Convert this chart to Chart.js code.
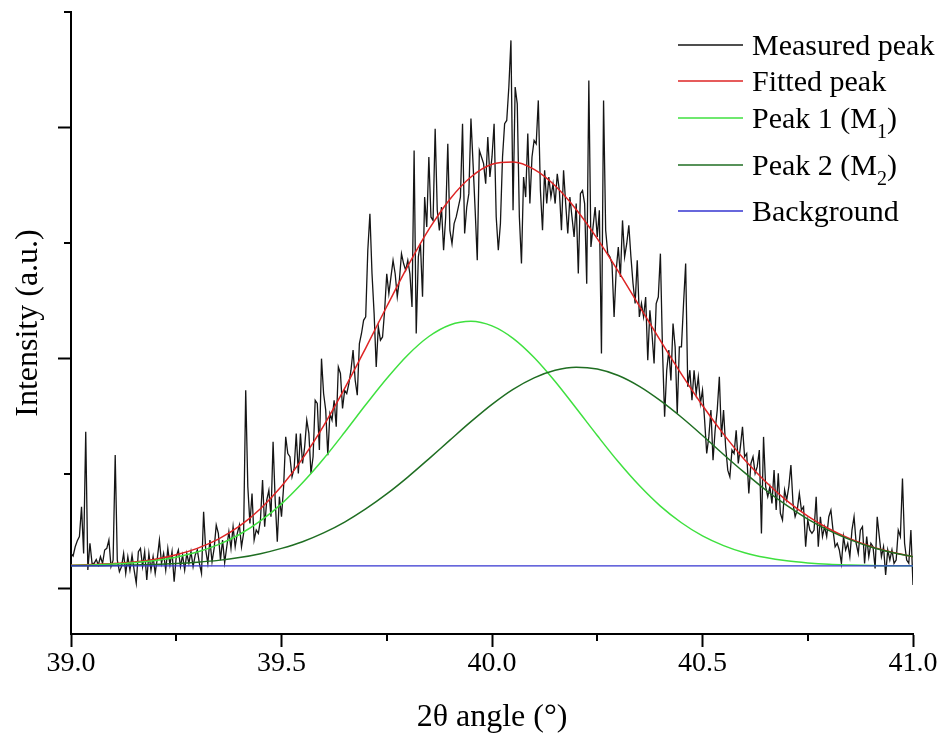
<!DOCTYPE html>
<html>
<head>
<meta charset="utf-8">
<script src="https://cdn.jsdelivr.net/npm/chart.js@4"></script>
<style>
 html, body { margin: 0; padding: 0; background: #fff; }
 #wrap { width: 948px; height: 745px; }
</style>
</head>
<body>
<div id="wrap"><canvas id="xrdChart" width="948" height="745"></canvas></div>
<script>
// measured scan, sampled every 0.005 deg starting at 39.0
var measuredStart = 39.0;
var measuredStep = 0.005;
var measuredY = [
 154, 143, 183, 209, 227, 356, 154, 681, 82, 198,
 111, 111, 128, 104, 140, 111, 169, 176, 212, 97,
 125, 580, 125, 75, 97, 154, 68, 140, 82, 147,
 82, 25, 162, 176, 97, 162, 39, 154, 82, 140,
 68, 133, 212, 111, 154, 82, 176, 104, 162, 32,
 140, 169, 97, 147, 82, 154, 111, 162, 97, 147,
 169, 111, 68, 335, 169, 111, 212, 118, 176, 277,
 241, 125, 212, 114, 183, 248, 176, 270, 183, 241,
 277, 183, 241, 861, 443, 284, 414, 212, 256, 241,
 299, 472, 270, 385, 428, 313, 638, 385, 205, 400,
 313, 443, 659, 587, 573, 486, 522, 674, 501, 674,
 544, 616, 732, 674, 501, 573, 818, 804, 602, 998,
 847, 775, 580, 760, 732, 818, 703, 962, 934, 782,
 861, 847, 890, 948, 1035, 905, 840, 1063, 1107, 1164,
 1179, 1468, 1626, 1366, 1193, 962, 1136, 1078, 1092, 1208,
 1366, 1280, 1352, 1424, 1366, 1266, 1338, 1453, 1410, 1381,
 1424, 1366, 1222, 1900, 1107, 1439, 1496, 1266, 1698, 1569,
 1872, 1612, 1597, 1994, 1641, 1554, 1655, 1468, 1612, 1929,
 1554, 1496, 1583, 1612, 1655, 1698, 2016, 1540, 1655, 1713,
 2038, 1843, 1641, 1424, 1900, 1872, 1843, 1756, 1958, 1785,
 1872, 2016, 1612, 1468, 1583, 1872, 2016, 2030, 2175, 2377,
 1641, 2175, 2102, 1612, 1410, 1785, 1698, 1973, 1670, 1872,
 1944, 1929, 2117, 1727, 1554, 1814, 1670, 1785, 1698, 1756,
 1670, 1799, 1727, 1554, 1814, 1670, 1540, 1698, 1612, 1525,
 1670, 1367, 1713, 1727, 1670, 1323, 2203, 1482, 1569, 1655,
 1525, 1641, 1020, 2117, 1554, 1453, 1439, 1410, 1179, 1381,
 1482, 1352, 1597, 1439, 1496, 1576, 1439, 1323, 1237, 1424,
 1179, 1237, 1179, 1265, 991, 1208, 1107, 977, 1237, 1265,
 1453, 1035, 746, 948, 1035, 904, 1150, 1049, 761, 1049,
 1049, 1237, 1410, 876, 948, 818, 948, 847, 919, 804,
 861, 732, 587, 659, 775, 558, 688, 775, 919, 659,
 775, 616, 515, 486, 602, 587, 688, 544, 616, 703,
 573, 587, 414, 544, 573, 501, 530, 602, 241, 659,
 443, 400, 443, 371, 515, 342, 501, 328, 299, 429,
 385, 443, 537, 371, 313, 342, 414, 342, 356, 183,
 299, 255, 241, 255, 400, 183, 313, 227, 270, 227,
 313, 342, 255, 183, 198, 169, 111, 227, 169, 198,
 140, 255, 313, 198, 154, 255, 270, 111, 227, 140,
 198, 183, 89, 313, 227, 140, 183, 61, 169, 125,
 169, 111, 125, 255, 227, 479, 198, 125, 111, 255,
 17
];

// fitted curves, read every 0.05 deg
var curveX = [
 39.00, 39.05, 39.10, 39.15, 39.20, 39.25, 39.30, 39.35, 39.40, 39.45,
 39.50, 39.55, 39.60, 39.65, 39.70, 39.75, 39.80, 39.85, 39.90, 39.95,
 40.00, 40.05, 40.10, 40.15, 40.20, 40.25, 40.30, 40.35, 40.40, 40.45,
 40.50, 40.55, 40.60, 40.65, 40.70, 40.75, 40.80, 40.85, 40.90, 40.95,
 41.00
];
var fittedY = [
 103, 106, 110, 117, 129, 148, 176, 216, 272, 348,
 445, 565, 707, 869, 1044, 1224, 1399, 1558, 1689, 1785,
 1840, 1850, 1818, 1747, 1644, 1518, 1376, 1226, 1076, 931,
 795, 671, 560, 465, 383, 316, 261, 218, 184, 159,
 140
];
var peak1Y = [
 102, 104, 108, 114, 123, 138, 160, 192, 236, 295,
 369, 460, 564, 679, 798, 912, 1014, 1094, 1144, 1160,
 1140, 1086, 1003, 899, 783, 665, 551, 448, 359, 287,
 230, 188, 157, 136, 122, 113, 107, 104, 102, 101,
 101
];
var peak2Y = [
 101, 101, 102, 104, 106, 110, 116, 124, 136, 153,
 176, 205, 243, 290, 347, 412, 485, 564, 645, 725,
 800, 865, 915, 948, 961, 953, 925, 878, 816, 744,
 665, 583, 504, 429, 362, 303, 254, 214, 182, 158,
 140
];
var backgroundX = [39.0, 41.0];
var backgroundY = [100, 100];

var xMajorTicks = [39.0, 39.5, 40.0, 40.5, 41.0];
var xMinorTicks = [39.25, 39.75, 40.25, 40.75];
var yMajorTicks = [0, 1000, 2000];
var yMinorTicks = [500, 1500, 2500];

var seriesLabels = ['Measured peak', 'Fitted peak', 'Peak 1 (M', 'Peak 2 (M', 'Background'];
var seriesSubs = ['', '', '1', '2', ''];
var seriesColors = ['#151515', '#de2424', '#3fe03f', '#1f6e22', '#3434d0'];

var serif = '"Liberation Serif", "Times New Roman", serif';

function toPoints(xs, ys) {
 return ys.map((y, i) => ({ x: xs[i], y: y }));
}

var measuredPoints = measuredY.map((y, i) => ({ x: +(measuredStart + i * measuredStep).toFixed(3), y: y }));

// minor ticks + hand drawn legend (the subscripts don't fit the built-in legend)
var extrasPlugin = {
 id: 'extras',
 afterDraw: function(chart) {
  var ctx = chart.ctx;
  var xs = chart.scales.x, ys = chart.scales.y;
  var area = chart.chartArea;
  ctx.save();
  ctx.strokeStyle = '#000';
  ctx.lineWidth = 2;
  xMinorTicks.forEach(v => {
   var px = Math.round(xs.getPixelForValue(v));
   ctx.beginPath();
   ctx.moveTo(px, area.bottom);
   ctx.lineTo(px, area.bottom + 7);
   ctx.stroke();
  });
  yMinorTicks.forEach(v => {
   var py = Math.round(ys.getPixelForValue(v));
   ctx.beginPath();
   ctx.moveTo(area.left - 7, py);
   ctx.lineTo(area.left, py);
   ctx.stroke();
  });

  var rows = [45, 81, 118, 165, 211];
  ctx.textBaseline = 'alphabetic';
  ctx.textAlign = 'left';
  seriesLabels.forEach((label, i) => {
   var y = rows[i];
   ctx.strokeStyle = seriesColors[i];
   ctx.lineWidth = 1.5;
   ctx.beginPath();
   ctx.moveTo(678, y);
   ctx.lineTo(743, y);
   ctx.stroke();
   ctx.fillStyle = '#000';
   ctx.font = '30px ' + serif;
   ctx.fillText(label, 752, y + 10);
   if (seriesSubs[i]) {
    var w = ctx.measureText(label).width;
    ctx.font = '20px ' + serif;
    ctx.fillText(seriesSubs[i], 752 + w, y + 20);
    var w2 = ctx.measureText(seriesSubs[i]).width;
    ctx.font = '30px ' + serif;
    ctx.fillText(')', 752 + w + w2, y + 10);
   }
  });
  ctx.restore();
 }
};

var ctx = document.getElementById('xrdChart').getContext('2d');

var chartInstance = new Chart(ctx, {
 type: 'line',
 data: {
  datasets: [
   { label: 'Background', data: toPoints(backgroundX, backgroundY), borderColor: seriesColors[4], borderWidth: 1.3, order: 1 },
   { label: 'Peak 2 (M2)', data: toPoints(curveX, peak2Y), borderColor: seriesColors[3], borderWidth: 1.5, cubicInterpolationMode: 'monotone', order: 2 },
   { label: 'Peak 1 (M1)', data: toPoints(curveX, peak1Y), borderColor: seriesColors[2], borderWidth: 1.5, cubicInterpolationMode: 'monotone', order: 3 },
   { label: 'Fitted peak', data: toPoints(curveX, fittedY), borderColor: seriesColors[1], borderWidth: 1.5, cubicInterpolationMode: 'monotone', order: 4 },
   { label: 'Measured peak', data: measuredPoints, borderColor: seriesColors[0], borderWidth: 1.3, order: 5 }
  ]
 },
 options: {
  responsive: false,
  animation: false,
  elements: { point: { radius: 0 }, line: { tension: 0 } },
  layout: { padding: { top: 12, right: 35, left: 0, bottom: 0 } },
  plugins: {
   legend: { display: false },
   tooltip: { enabled: false },
   title: { display: false }
  },
  scales: {
   x: {
    type: 'linear',
    min: 39.0,
    max: 41.0,
    afterFit: function(scale) { scale.height = 111; },
    afterBuildTicks: function(scale) { scale.ticks = xMajorTicks.map(v => ({ value: v })); },
    border: { display: true, color: '#000', width: 2 },
    grid: { drawOnChartArea: false, drawTicks: true, tickLength: 13, tickColor: '#000', tickWidth: 2 },
    ticks: {
     color: '#000',
     padding: 0,
     maxRotation: 0,
     font: { family: serif, size: 28 },
     callback: function(v) { return Number(v).toFixed(1); }
    },
    title: {
     display: true,
     text: '2θ angle (°)',
     color: '#000',
     font: { family: serif, size: 32 },
     padding: { top: 0, bottom: 8 }
    }
   },
   y: {
    type: 'linear',
    min: -195,
    max: 2500,
    afterFit: function(scale) { scale.width = 71; },
    afterBuildTicks: function(scale) { scale.ticks = yMajorTicks.map(v => ({ value: v })); },
    border: { display: true, color: '#000', width: 2 },
    grid: { drawOnChartArea: false, drawTicks: true, tickLength: 13, tickColor: '#000', tickWidth: 2 },
    ticks: { display: false },
    title: {
     display: true,
     text: 'Intensity (a.u.)',
     color: '#000',
     font: { family: serif, size: 32 },
     padding: { top: 9, bottom: 0 }
    }
   }
  }
 },
 plugins: [extrasPlugin]
});
</script>
</body>
</html>
